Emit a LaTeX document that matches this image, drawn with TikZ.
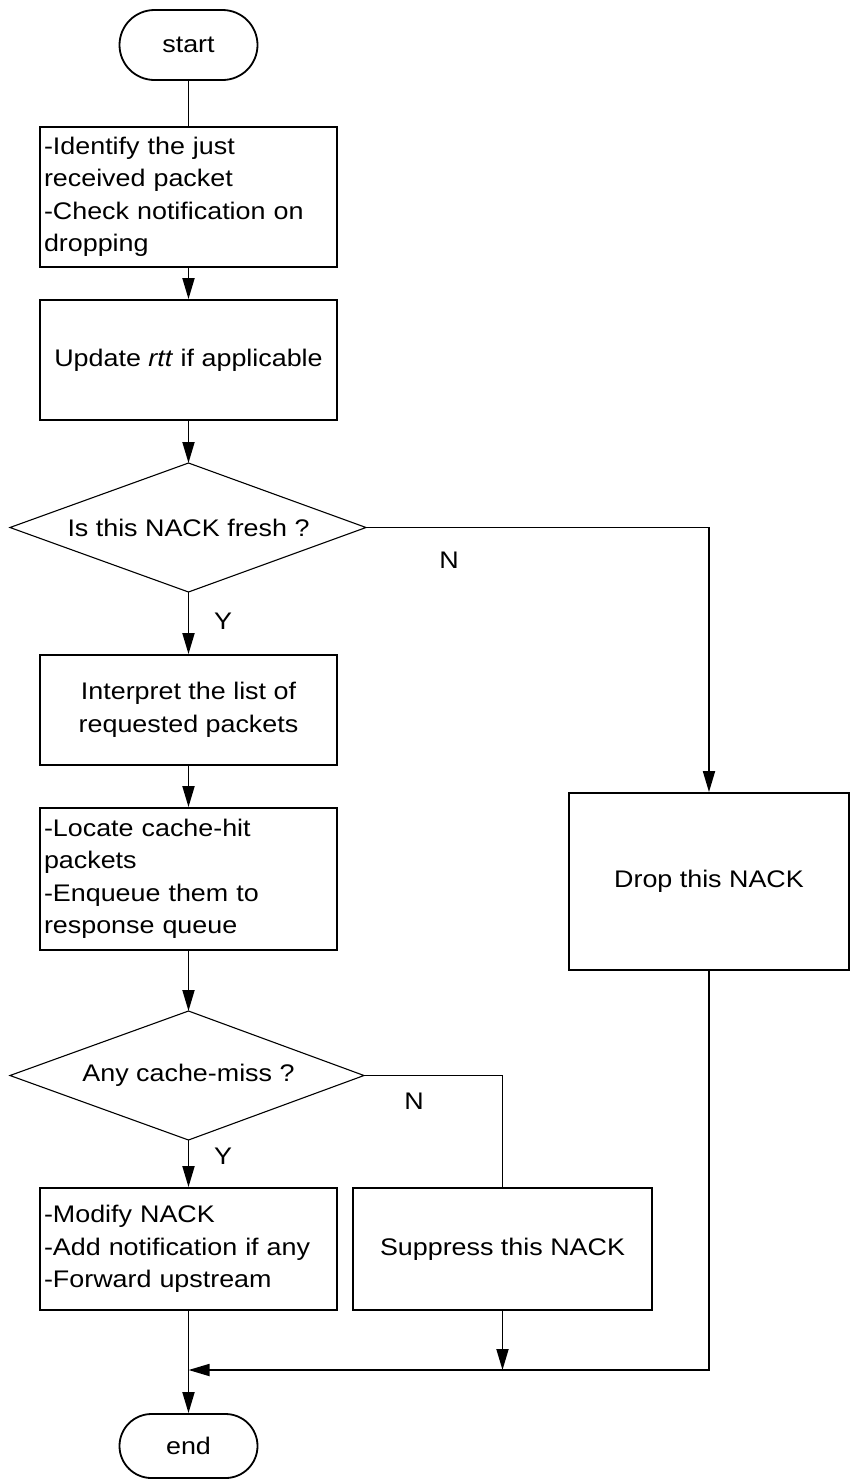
\documentclass[tikz,border=0pt]{standalone}
\usepackage{fontspec}
\setmainfont[FakeStretch=1.12]{Liberation Sans}
\usetikzlibrary{arrows.meta}
\begin{document}
\begin{tikzpicture}[x=1pt,y=-1pt,
  font=\fontsize{24}{32.5}\selectfont,
  term/.style={draw, line width=1.8pt, minimum width=138, inner sep=0pt},
  box/.style={draw, line width=1.8pt, inner sep=0pt},
  leftbox/.style={box, align=left, text width=#1-8},
  cbox/.style={box, align=center},
  decision/.style={draw, line width=1.1pt, line join=miter},
  conn/.style={line width=1.8pt},
  thinconn/.style={line width=1.2pt},
  arr/.style={conn, -{Triangle[length=21pt,width=12pt]}}]
\useasboundingbox (0,0) rectangle (850,1481);

% terminals
\node[term, rounded corners=35pt, minimum height=70] (start) at (188.5,45) {start};
\node[term, rounded corners=32pt, minimum height=64] (end) at (188.5,1446) {end};

% process boxes
\node[leftbox=297, minimum width=297, minimum height=140] (b1) at (188.5,197)
  {-Identify the just\\received packet\\-Check notification on\\dropping};
\node[cbox, minimum width=297, minimum height=120] (b2) at (188.5,360)
  {Update \textit{rtt} if applicable};
\node[cbox, minimum width=297, minimum height=110] (b3) at (188.5,710)
  {Interpret the list of\\requested packets};
\node[leftbox=297, minimum width=297, minimum height=142] (b4) at (188.5,879)
  {-Locate cache-hit\\packets\\-Enqueue them to\\response queue};
\node[leftbox=297, minimum width=297, minimum height=122] (b5) at (188.5,1249)
  {-Modify NACK\\-Add notification if any\\-Forward upstream};
\node[cbox, minimum width=299, minimum height=122] (b6) at (502.5,1249)
  {Suppress this NACK};
\node[cbox, minimum width=280, minimum height=177] (b7) at (709,881.5)
  {Drop this NACK};

% decisions
\coordinate (d1n) at (188.5,463);
\coordinate (d1e) at (366,527.5);
\coordinate (d1s) at (188.5,592);
\coordinate (d1w) at (10,527.5);
\draw[decision] (d1n) -- (d1e) -- (d1s) -- (d1w) -- cycle;
\node (d1) at (188.5,527.5) {Is this NACK fresh ?};

\coordinate (d2n) at (188.5,1011);
\coordinate (d2e) at (364,1075.5);
\coordinate (d2s) at (188.5,1140);
\coordinate (d2w) at (10,1075.5);
\draw[decision] (d2n) -- (d2e) -- (d2s) -- (d2w) -- cycle;
\node (d2) at (188.5,1075.5) {Any cache-miss ?};

% branch labels
\node (n1) at (449,560) {N};
\node (y1) at (223,621) {Y};
\node (n2) at (414,1101) {N};
\node (y2) at (223,1156) {Y};

% connectors
\coordinate (m) at (188.5,1370);
\draw[conn] (start) -- (b1);
\draw[arr] (b1) -- (b2);
\draw[arr] (b2) -- (d1n);
\draw[arr] (d1s) -- (b3);
\draw[arr] (d1e) -| (b7);
\draw[arr] (b3) -- (b4);
\draw[arr] (b4) -- (d2n);
\draw[arr] (d2s) -- (b5);
\draw[thinconn] (d2e) -| (b6);
\draw[arr] (b6) -- (b6 |- m);
\draw[arr] (b7) |- (m);
\draw[arr] (b5) -- (end);
\end{tikzpicture}
\end{document}
